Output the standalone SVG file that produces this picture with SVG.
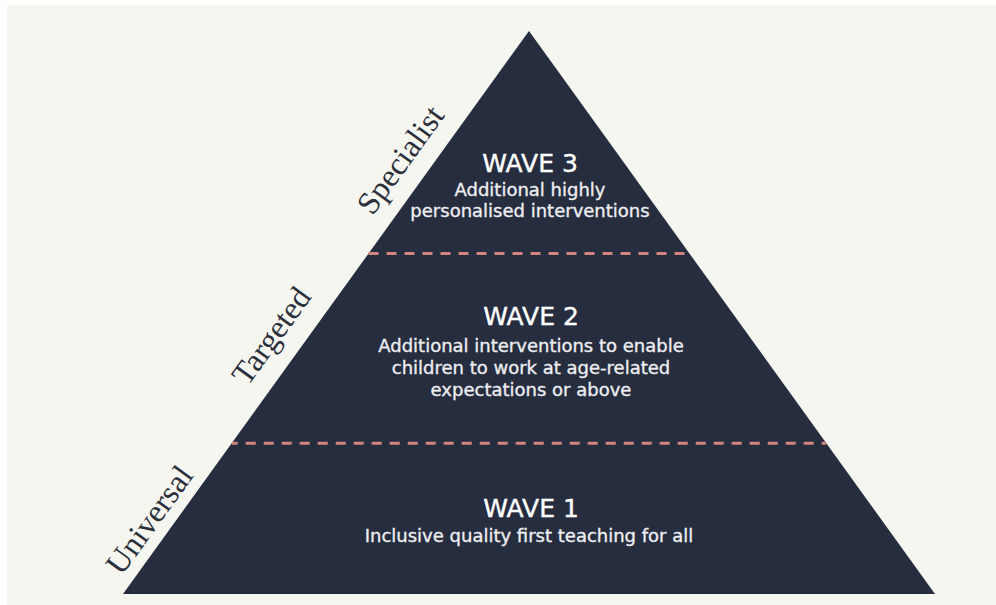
<svg xmlns="http://www.w3.org/2000/svg" width="996" height="605" viewBox="0 0 996 605">
<style>
.title{font-family:"DejaVu Sans",sans-serif;font-size:25px;fill:#ffffff;stroke:#ffffff;stroke-width:0.4;text-anchor:middle}
.body{font-family:"DejaVu Sans",sans-serif;font-size:18px;fill:#eeeef0;stroke:#eeeef0;stroke-width:0.35;text-anchor:middle}
.side{font-family:"Liberation Serif",serif;font-size:32px;fill:#2b303b;text-anchor:middle}
.div{stroke:#d4847f;stroke-width:3;stroke-dasharray:10 8;fill:none}
</style>
<rect x="0" y="0" width="996" height="605" fill="#ffffff"/>
<rect x="7" y="5" width="989" height="600" fill="#f6f6f1"/>
<g id="pyramid">
<polygon points="529,31 935,594 123,594" fill="#252d3f"/>
</g>
<g id="connectors">
<line class="div" x1="368.5" y1="253.5" x2="689.5" y2="253.5"/>
<line class="div" x1="231.7" y1="443.3" x2="826.3" y2="443.3" stroke-dashoffset="4"/>
</g>
<g id="wave3">
<text class="title" x="530" y="171.5">WAVE 3</text>
<text class="body" x="530" y="196">Additional highly</text>
<text class="body" x="530" y="216.5">personalised interventions</text>
</g>
<g id="wave2">
<text class="title" x="531" y="325">WAVE 2</text>
<text class="body" x="531" y="352.3">Additional interventions to enable</text>
<text class="body" x="531" y="374">children to work at age-related</text>
<text class="body" x="531" y="396">expectations or above</text>
</g>
<g id="wave1">
<text class="title" x="531" y="517.3">WAVE 1</text>
<text class="body" x="529" y="541.7">Inclusive quality first teaching for all</text>
</g>
<g id="label-specialist">
<text class="side" transform="translate(409,166) rotate(-54.2)">Specialist</text>
</g>
<g id="label-targeted">
<text class="side" transform="translate(280,342) rotate(-54.2)">Targeted</text>
</g>
<g id="label-universal">
<text class="side" transform="translate(158,526) rotate(-54.2)">Universal</text>
</g>
</svg>
